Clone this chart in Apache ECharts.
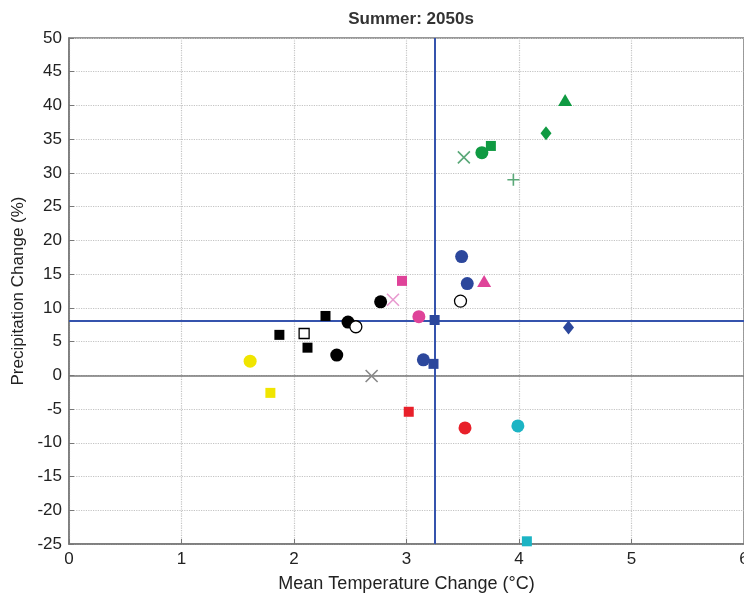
<!DOCTYPE html>
<html>
<head>
<meta charset="utf-8">
<script src="https://cdn.jsdelivr.net/npm/echarts@6/dist/echarts.min.js"></script>
<style>
  html, body { margin: 0; padding: 0; background: #fff; }
  #chart { width: 744px; height: 598px; }
</style>
</head>
<body>
<div id="chart"></div>
<script>
// values, one array per colour group
const greenPts = [[4.41, 40.8], [4.24, 35.9], [3.75, 34.0], [3.67, 33.0], [3.51, 32.3], [3.95, 29.0]];
const greenShapes = ['triangle', 'diamond', 'rect', 'circle', 'x', 'plus'];

const bluePts = [[3.49, 17.6], [3.54, 13.6], [4.44, 7.1], [3.25, 8.2], [3.24, 1.7], [3.15, 2.3]];
const blueShapes = ['circle', 'circle', 'diamond', 'rect', 'rect', 'circle'];

const pinkPts = [[3.69, 14.0], [2.96, 14.0], [2.88, 11.2], [3.11, 8.7]];
const pinkShapes = ['triangle', 'rect', 'x', 'circle'];

const blackPts = [[2.77, 10.9], [2.28, 8.8], [2.48, 7.9], [1.87, 6.0], [2.12, 4.1], [2.38, 3.0], [3.48, 11.0], [2.55, 7.2], [2.09, 6.2], [2.69, -0.1]];
const blackShapes = ['circle', 'rect', 'circle', 'rect', 'rect', 'circle', 'open-circle', 'open-circle', 'open-rect', 'x'];

const yellowPts = [[1.61, 2.1], [1.79, -2.6]];
const yellowShapes = ['circle', 'rect'];

const redPts = [[3.02, -5.4], [3.52, -7.8]];
const redShapes = ['rect', 'circle'];

const cyanPts = [[3.99, -7.5], [4.07, -24.6]];
const cyanShapes = ['circle', 'rect'];

const refX = 3.25;   // blue vertical line
const refY = 8.1;    // blue horizontal line

const chart = echarts.init(document.getElementById('chart'));

const crossPath = 'path://M0,0L10,10M10,0L0,10';
const plusPath = 'path://M5,0L5,10M0,5L10,5';

function makeItems(pts, shapes, color, xColor) {
    return pts.map((p, i) => {
        const s = shapes[i];
        let item = { value: p, symbol: s, symbolSize: 13, itemStyle: { color: color, opacity: 1 } };
        if (s === 'rect') item.symbolSize = 10;
        if (s === 'diamond') item.symbolSize = [11, 14];
        if (s === 'triangle') item.symbolSize = [14, 12];
        if (s === 'open-circle') {
            item.symbol = 'circle';
            item.symbolSize = 12;
            item.itemStyle = { color: '#fff', borderColor: color, borderWidth: 1.3, opacity: 1 };
        }
        if (s === 'open-rect') {
            item.symbol = 'rect';
            item.symbolSize = 10;
            item.itemStyle = { color: '#fff', borderColor: color, borderWidth: 1.3, opacity: 1 };
        }
        if (s === 'x' || s === 'plus') {
            item.symbol = s === 'x' ? crossPath : plusPath;
            item.symbolSize = 12;
            item.itemStyle = { color: 'rgba(0,0,0,0)', borderColor: xColor || color, borderWidth: 1.6, opacity: 1 };
        }
        return item;
    });
}

const groups = [
    [greenPts, greenShapes, '#0f9a42', '#5aa878'],
    [bluePts, blueShapes, '#2c479c'],
    [pinkPts, pinkShapes, '#df4399', '#e89ad0'],
    [blackPts, blackShapes, '#000000', '#888888'],
    [yellowPts, yellowShapes, '#f0e500'],
    [redPts, redShapes, '#e8202a'],
    [cyanPts, cyanShapes, '#1cb4c4']
];

const series = groups.map(g => ({
    type: 'scatter',
    data: makeItems(g[0], g[1], g[2], g[3]),
    z: 5
}));

// zero line and the two blue reference lines
series.unshift({
    type: 'scatter',
    data: [],
    silent: true,
    markLine: {
        symbol: 'none',
        silent: true,
        animation: false,
        label: { show: false },
        data: [
            { yAxis: 0, lineStyle: { color: '#777', width: 1.5, type: 'solid' } },
            { xAxis: refX, lineStyle: { color: '#3553ad', width: 2, type: 'solid' } },
            { yAxis: refY, lineStyle: { color: '#3553ad', width: 2, type: 'solid' } }
        ]
    }
});

const fontFam = 'Liberation Sans, Arial, sans-serif';
const tickFont = { color: '#222', fontSize: 17, fontFamily: fontFam };

let options = {
    animation: false,
    backgroundColor: '#fff',
    title: {
        text: 'Summer: 2050s',
        left: 406,
        textAlign: 'center',
        top: 6,
        textStyle: { fontSize: 17, fontWeight: 'bold', color: '#333', fontFamily: fontFam }
    },
    grid: {
        left: 69,
        right: 0,
        top: 38,
        bottom: 54,
        outerBoundsMode: 'none',
        containLabel: false,
        show: true,
        borderColor: '#777',
        borderWidth: 1.5
    },
    xAxis: {
        type: 'value',
        min: 0,
        max: 6,
        interval: 1,
        name: 'Mean Temperature Change (°C)',
        nameLocation: 'middle',
        nameGap: 31,
        nameTextStyle: { fontSize: 18, color: '#222', fontFamily: fontFam },
        axisLine: { onZero: false, lineStyle: { color: '#777', width: 1.5 } },
        axisTick: { inside: true, length: 5, lineStyle: { color: '#777' } },
        axisLabel: Object.assign({ margin: 7 }, tickFont),
        splitLine: { lineStyle: { color: '#c4c4c4', type: 'dotted', width: 1.2 } }
    },
    yAxis: {
        type: 'value',
        min: -25,
        max: 50,
        interval: 5,
        name: 'Precipitation Change (%)',
        nameLocation: 'middle',
        nameGap: 42,
        nameTextStyle: { fontSize: 17, color: '#222', fontFamily: fontFam },
        axisLine: { show: true, lineStyle: { color: '#777', width: 1.5 } },
        axisTick: { show: true, inside: true, length: 5, lineStyle: { color: '#777' } },
        axisLabel: Object.assign({ margin: 7 }, tickFont),
        splitLine: { lineStyle: { color: '#c4c4c4', type: 'dotted', width: 1.2 } }
    },
    series: series
};

chart.setOption(options, { notMerge: true });
</script>
</body>
</html>
